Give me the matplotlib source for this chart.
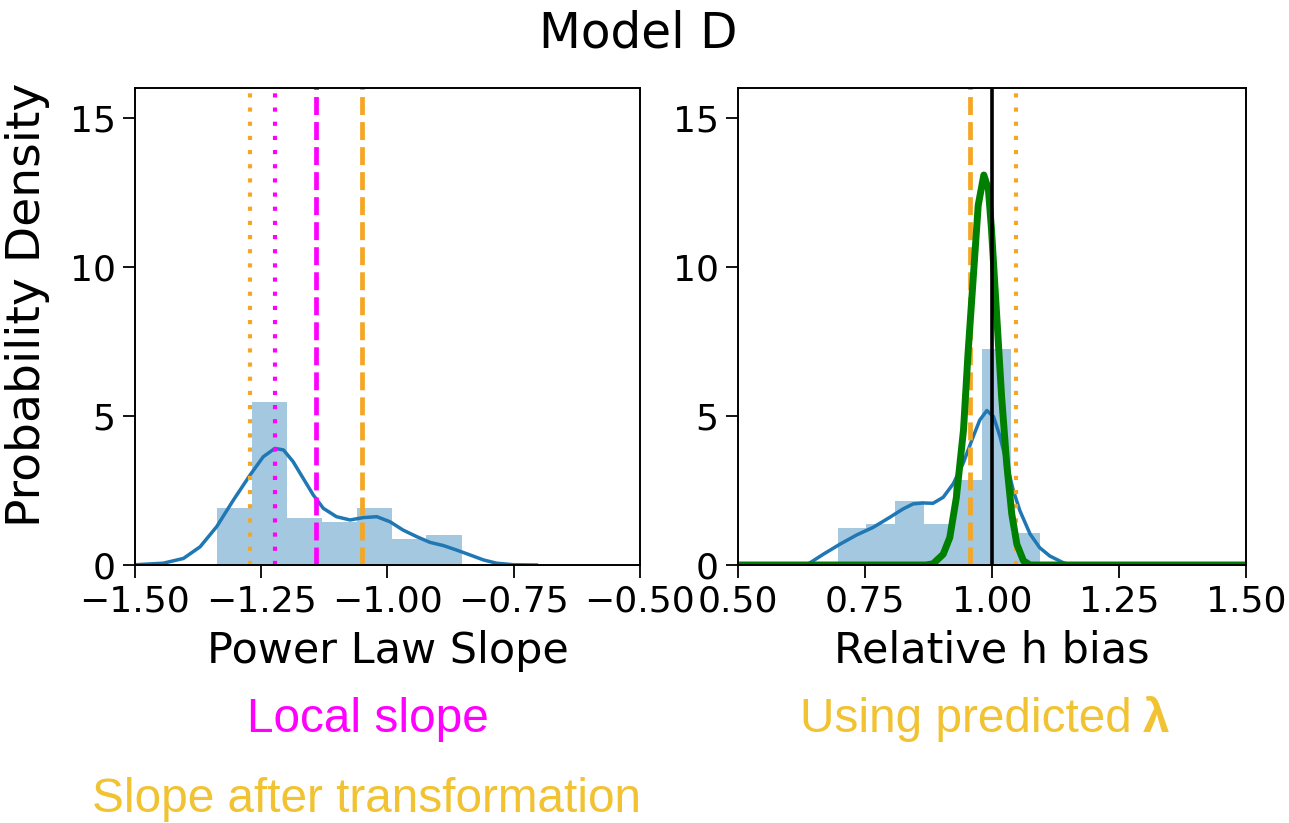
import matplotlib

matplotlib.use("Agg")
import matplotlib.pyplot as plt
import numpy as np

# left panel: power law slope
LEFT_BIN_EDGES = [-1.337, -1.268, -1.199, -1.130, -1.061, -0.992, -0.923, -0.853]
LEFT_BIN_HEIGHTS = [1.92, 5.48, 1.59, 1.45, 1.92, 0.87, 1.00]
LEFT_KDE_X = [-1.50, -1.497, -1.444, -1.404, -1.371, -1.338, -1.305, -1.272, -1.246, -1.223,
              -1.206, -1.187, -1.167, -1.147, -1.127, -1.101, -1.074, -1.048, -1.021, -0.995,
              -0.969, -0.942, -0.916, -0.889, -0.863, -0.837, -0.810, -0.784, -0.751, -0.705]
LEFT_KDE_Y = [0.0, 0.01, 0.06, 0.22, 0.61, 1.29, 2.18, 3.02, 3.63, 3.91,
              3.86, 3.47, 2.91, 2.35, 1.90, 1.62, 1.51, 1.59, 1.62, 1.45,
              1.17, 0.95, 0.76, 0.65, 0.50, 0.34, 0.17, 0.06, 0.01, 0.0]
LOCAL_SLOPE_DOTTED = -1.223
LOCAL_SLOPE_DASHED = -1.142
TRANSFORMED_DOTTED = -1.272
TRANSFORMED_DASHED = -1.051

# right panel: relative h bias
RIGHT_BIN_EDGES = [0.696, 0.753, 0.810, 0.867, 0.924, 0.981, 1.037, 1.094]
RIGHT_BIN_HEIGHTS = [1.24, 1.37, 2.14, 1.37, 2.86, 7.25, 1.06]
RIGHT_KDE_X = [0.635, 0.668, 0.701, 0.734, 0.766, 0.799, 0.825, 0.845, 0.865, 0.884,
               0.904, 0.924, 0.943, 0.963, 0.976, 0.990, 1.003, 1.016, 1.029, 1.042,
               1.055, 1.075, 1.094, 1.114, 1.140, 1.154]
RIGHT_KDE_Y = [0.0, 0.36, 0.70, 1.01, 1.26, 1.60, 1.88, 2.05, 2.08, 2.07,
               2.27, 2.73, 3.40, 4.30, 4.86, 5.18, 4.98, 4.30, 3.40, 2.50,
               1.82, 1.04, 0.58, 0.30, 0.08, 0.0]
PRED_X = [0.50, 0.870, 0.884, 0.904, 0.917, 0.930, 0.944, 0.953, 0.963, 0.973,
          0.984, 0.993, 0.999, 1.009, 1.019, 1.029, 1.039, 1.049, 1.062, 1.075, 1.50]
PRED_Y = [0.0, 0.0, 0.04, 0.36, 0.92, 2.27, 4.53, 7.12, 9.59, 12.07,
          13.08, 12.60, 11.28, 8.47, 5.65, 3.40, 1.71, 0.70, 0.14, 0.0, 0.0]
LAMBDA_DASHED = 0.957
LAMBDA_DOTTED = 1.047
TRUE_VALUE = 1.0

HIST_COLOR = "#1f77b4"
ORANGE = "#f5a623"
MAGENTA = "#ff00ff"
TEXT_GOLD = "#f1c232"

plt.rcParams["font.family"] = "DejaVu Sans"

fig = plt.figure(figsize=(12.89, 8.23), dpi=100)
ax_l = fig.add_axes([0.1047, 0.3135, 0.3918, 0.5796])
ax_r = fig.add_axes([0.5725, 0.3135, 0.3941, 0.5796])


def draw_hist(ax, edges, heights, kde_x, kde_y):
    edges = np.asarray(edges)
    ax.bar(edges[:-1], heights, width=np.diff(edges), align="edge",
           color=HIST_COLOR, alpha=0.4, linewidth=0)
    ax.plot(kde_x, kde_y, color=HIST_COLOR, linewidth=2.5, solid_joinstyle="round")


def vline(ax, x, color, style):
    if style == "dotted":
        ax.axvline(x, color=color, linewidth=3.0, dashes=(1.0, 2.4))
    elif style == "dashed":
        ax.axvline(x, color=color, linewidth=3.4, dashes=(3.8, 1.5))
    else:
        ax.axvline(x, color=color, linewidth=2.6)


draw_hist(ax_l, LEFT_BIN_EDGES, LEFT_BIN_HEIGHTS, LEFT_KDE_X, LEFT_KDE_Y)
vline(ax_l, TRANSFORMED_DOTTED, ORANGE, "dotted")
vline(ax_l, LOCAL_SLOPE_DOTTED, MAGENTA, "dotted")
vline(ax_l, LOCAL_SLOPE_DASHED, MAGENTA, "dashed")
vline(ax_l, TRANSFORMED_DASHED, ORANGE, "dashed")

draw_hist(ax_r, RIGHT_BIN_EDGES, RIGHT_BIN_HEIGHTS, RIGHT_KDE_X, RIGHT_KDE_Y)
vline(ax_r, LAMBDA_DASHED, ORANGE, "dashed")
vline(ax_r, LAMBDA_DOTTED, ORANGE, "dotted")
ax_r.plot(PRED_X, PRED_Y, color="green", linewidth=5.0, solid_joinstyle="round")
vline(ax_r, TRUE_VALUE, "black", "solid")

ax_l.set_xlim(-1.5, -0.5)
ax_l.set_xticks([-1.5, -1.25, -1.0, -0.75, -0.5])
ax_l.set_xlabel("Power Law Slope", fontsize=31, labelpad=8)
ax_l.set_ylabel("Probability Density", fontsize=34)
ax_l.yaxis.set_label_coords(-0.168, 0.545)

ax_r.set_xlim(0.5, 1.5)
ax_r.set_xticks([0.5, 0.75, 1.0, 1.25, 1.5])
ax_r.set_xlabel("Relative h bias", fontsize=31, labelpad=8)

for ax in (ax_l, ax_r):
    ax.set_ylim(0, 16)
    ax.set_yticks([0, 5, 10, 15])
    ax.tick_params(labelsize=26, length=9, width=1.3, pad=5)
    for spine in ax.spines.values():
        spine.set_linewidth(1.4)

fig.text(638 / 1289, 1 - 34 / 823, "Model D", fontsize=35, ha="center", va="center")

fig.text(368 / 1289, 1 - 720 / 823, "Local slope", color=MAGENTA, fontsize=34.4,
         family="Liberation Sans", ha="center", va="center")
fig.text(366 / 1289, 1 - 800 / 823, "Slope after transformation", color=TEXT_GOLD,
         fontsize=34.4, family="Liberation Sans", ha="center", va="center")
fig.text(800 / 1289, 1 - 720 / 823, "Using predicted", color=TEXT_GOLD, fontsize=34.4,
         family="Liberation Sans", ha="left", va="center")
fig.text(1143 / 1289, 1 - 720 / 823, "λ", color=TEXT_GOLD, fontsize=34.4,
         family="Liberation Sans", fontweight="bold", ha="left", va="center")

fig.savefig("out.png", dpi=100)
